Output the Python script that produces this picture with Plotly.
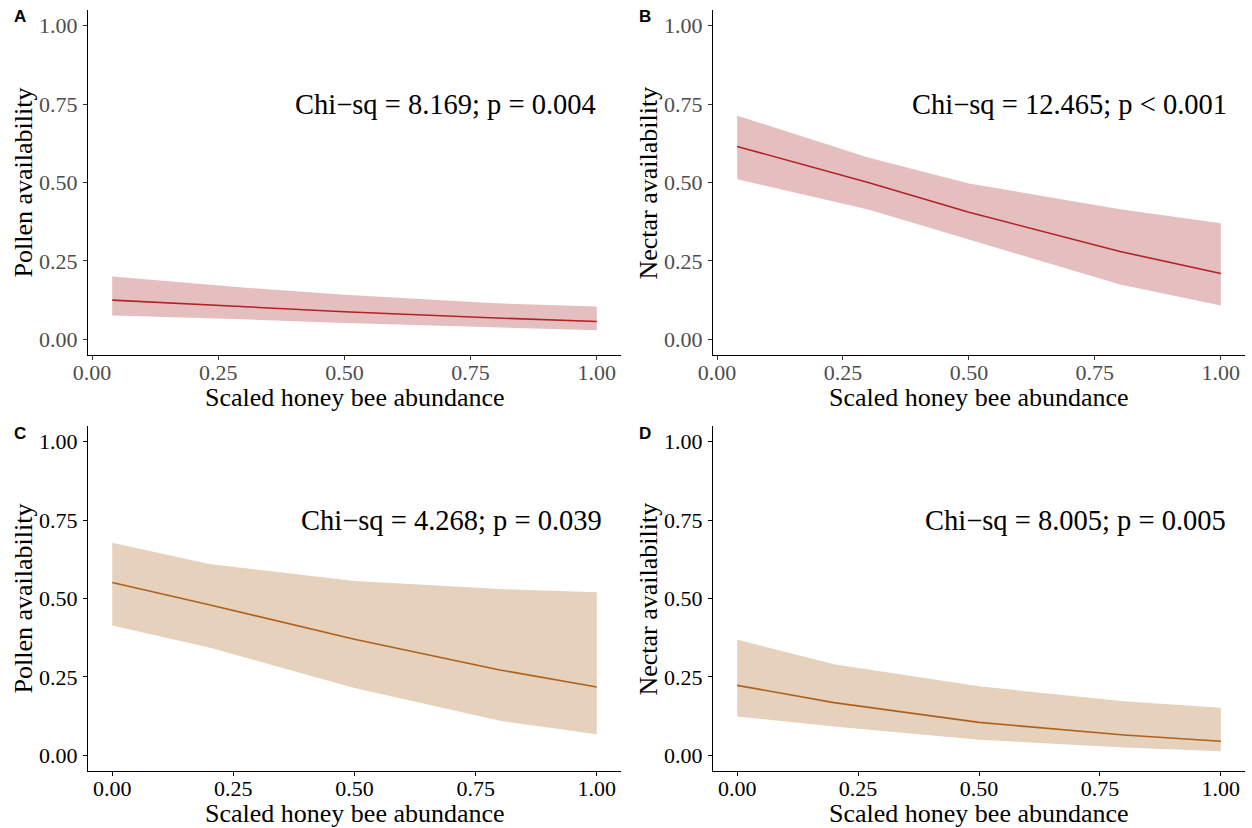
import plotly.graph_objects as go

W, H = 1252, 828

# ---- data ----
x_ab = [0.04, 0.3, 0.5, 0.8, 1.0]
x_cd = [0.0, 0.2, 0.5, 0.8, 1.0]

a_fit = [0.125, 0.105, 0.088, 0.068, 0.057]
a_upper = [0.200, 0.165, 0.142, 0.115, 0.105]
a_lower = [0.076, 0.064, 0.052, 0.037, 0.029]

b_fit = [0.615, 0.500, 0.405, 0.280, 0.210]
b_upper = [0.713, 0.580, 0.497, 0.415, 0.370]
b_lower = [0.510, 0.414, 0.318, 0.175, 0.108]

c_fit = [0.551, 0.480, 0.370, 0.272, 0.218]
c_upper = [0.678, 0.610, 0.556, 0.530, 0.520]
c_lower = [0.414, 0.344, 0.215, 0.110, 0.067]

d_fit = [0.223, 0.168, 0.105, 0.065, 0.045]
d_upper = [0.369, 0.290, 0.220, 0.172, 0.152]
d_lower = [0.124, 0.092, 0.050, 0.025, 0.013]

labels = ["A", "B", "C", "D"]
ytitles = ["Pollen availability", "Nectar availability", "Pollen availability", "Nectar availability"]
xtitle = "Scaled honey bee abundance"
stats = ["Chi\u2212sq = 8.169; p = 0.004", "Chi\u2212sq = 12.465; p < 0.001",
         "Chi\u2212sq = 4.268; p = 0.039", "Chi\u2212sq = 8.005; p = 0.005"]
tickvals = [0, 0.25, 0.5, 0.75, 1.0]
ticktext = ["0.00", "0.25", "0.50", "0.75", "1.00"]

RED_LINE, RED_FILL = "#B22222", "#E5BFC0"
BRN_LINE, BRN_FILL = "#B0601A", "#E5D1BC"

panels = [
    dict(x=x_ab, fit=a_fit, up=a_upper, lo=a_lower, line=RED_LINE, fill=RED_FILL,
         px=(88, 621), py=(10, 355), xr=[-0.008, 1.048], tc="#4D4D4D", tk="#333333"),
    dict(x=x_ab, fit=b_fit, up=b_upper, lo=b_lower, line=RED_LINE, fill=RED_FILL,
         px=(713, 1245), py=(10, 355), xr=[-0.008, 1.048], tc="#4D4D4D", tk="#333333"),
    dict(x=x_cd, fit=c_fit, up=c_upper, lo=c_lower, line=BRN_LINE, fill=BRN_FILL,
         px=(88, 621), py=(426, 771), xr=[-0.05, 1.05], tc="#000000", tk="#000000"),
    dict(x=x_cd, fit=d_fit, up=d_upper, lo=d_lower, line=BRN_LINE, fill=BRN_FILL,
         px=(713, 1245), py=(426, 771), xr=[-0.05, 1.05], tc="#000000", tk="#000000"),
]

SERIF = "Liberation Serif"
fig = go.Figure()
layout = {}
annotations = []

for i, p in enumerate(panels):
    n = "" if i == 0 else str(i + 1)
    xa, ya = "x" + n, "y" + n
    fig.add_trace(go.Scatter(x=p["x"], y=p["up"], mode="lines", line=dict(width=0, color=p["fill"]),
                             xaxis=xa, yaxis=ya, showlegend=False, hoverinfo="skip"))
    fig.add_trace(go.Scatter(x=p["x"], y=p["lo"], mode="lines", line=dict(width=0, color=p["fill"]),
                             fill="tonexty", fillcolor=p["fill"],
                             xaxis=xa, yaxis=ya, showlegend=False, hoverinfo="skip"))
    fig.add_trace(go.Scatter(x=p["x"], y=p["fit"], mode="lines", line=dict(width=1.6, color=p["line"]),
                             xaxis=xa, yaxis=ya, showlegend=False))
    x0, x1 = p["px"]
    y0, y1 = p["py"]
    common = dict(showgrid=False, zeroline=False, showline=True, linecolor="black", linewidth=1.3,
                  ticks="outside", ticklen=4, tickwidth=1, tickcolor=p["tk"],
                  tickvals=tickvals, ticktext=ticktext, automargin=False,
                  tickfont=dict(family=SERIF, size=22, color=p["tc"]), fixedrange=True)
    layout["xaxis" + n] = dict(domain=[x0 / W, x1 / W], range=p["xr"], anchor=ya,
                               ticklabelstandoff=-7, **common)
    layout["yaxis" + n] = dict(domain=[1 - y1 / H, 1 - y0 / H], range=[-0.05, 1.05], anchor=xa,
                               ticklabelstandoff=1, **common)

    # stats text
    annotations.append(dict(x=0.7, y=0.75, xref=xa, yref=ya, text=stats[i], showarrow=False,
                            xanchor="center", yanchor="middle",
                            font=dict(family=SERIF, size=28.5, color="black")))
    # x title
    annotations.append(dict(x=(x0 + x1) / 2 / W, y=1 - (y1 + 42) / H, xref="paper", yref="paper",
                            text=xtitle, showarrow=False, xanchor="center", yanchor="middle",
                            font=dict(family=SERIF, size=26, color="black")))
    # y title
    annotations.append(dict(x=(x0 - 65) / W, y=1 - (y0 + y1) / 2 / H, xref="paper", yref="paper",
                            text=ytitles[i], showarrow=False, textangle=-90,
                            xanchor="center", yanchor="middle",
                            font=dict(family=SERIF, size=26, color="black")))
    # panel letter
    annotations.append(dict(x=(x0 - 68) / W, y=1 - (y0 + 7) / H, xref="paper", yref="paper",
                            text="<b>" + labels[i] + "</b>", showarrow=False,
                            xanchor="center", yanchor="middle",
                            font=dict(family="Liberation Sans", size=17, color="black")))

fig.update_layout(width=W, height=H, margin=dict(l=0, r=0, t=0, b=0, autoexpand=False),
                  paper_bgcolor="white", plot_bgcolor="white",
                  annotations=annotations, **layout)

fig.write_html("out.html", config={"displayModeBar": False})
